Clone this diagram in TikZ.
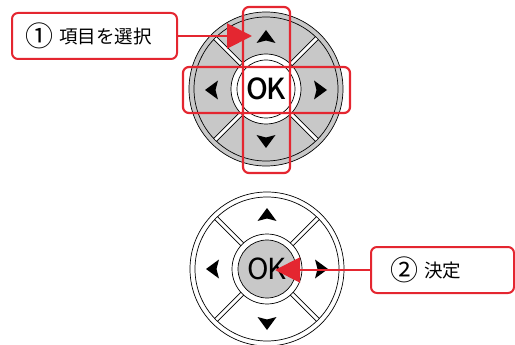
\documentclass[tikz,border=0pt]{standalone}
\usepackage{fontspec}
\newfontfamily\cjk{Noto Sans CJK JP}
\newfontfamily\okfont{Noto Sans CJK JP Medium}
\usetikzlibrary{arrows.meta}
\definecolor{dialgray}{RGB}{200,200,200}
\definecolor{hired}{RGB}{228,38,48}
\tikzset{
  callout/.style={draw=hired, line width=2pt, rounded corners=6pt, fill=white, minimum height=46pt, inner sep=0pt},
  redbox/.style={draw=hired, line width=2.2pt, rounded corners=6pt},
  pointer/.style={draw=hired, line width=2pt, -{Triangle[length=25pt,width=25pt]}, hired},
  ring/.style={draw=black, line width=0.7pt},
  oktext/.style={font=\okfont\fontsize{29}{29}\selectfont, inner sep=0pt},
  cjktext/.style={font=\cjk\fontsize{18.5}{18.5}\selectfont, inner sep=0pt}
}
\newcommand{\dirtri}[2]{% position, rotation
  \fill[black, shift={#1}, rotate=#2] (0,-7) -- (9.5,6) -- (0,3.5) -- (-9.5,6) -- cycle;}
\newcommand{\bignum}[1]{{\fontsize{28}{28}\selectfont\raisebox{-0.12em}{#1}}}
\begin{document}
\begin{tikzpicture}[x=1pt,y=-1pt]
\useasboundingbox (0,0) rectangle (515,345);
\clip (0,0) rectangle (515,345);
% ---------- top dial ----------
\begin{scope}[shift={(266,89)}]
  \fill[dialgray] (0,0) circle (77);
  \draw[ring] (0,0) circle (77);
  \draw[ring] (0,0) circle (72);
  \foreach \a in {45,135,225,315}{
    \draw[line width=4.6pt] (\a:34) -- (\a:72);
    \draw[white,line width=3pt] (\a:33) -- (\a:71.6);
  }
  \fill[white] (0,0) circle (35);
  \draw[ring] (0,0) circle (35);
  \draw[ring] (0,0) circle (29);
  \node[oktext] (ok1) at (0,0) {O\kern-1.5pt K};
  \dirtri{(0,-52)}{0}
  \dirtri{(0,52)}{180}
  \dirtri{(-54,1)}{90}
  \dirtri{(54,1)}{-90}
\end{scope}
\draw[redbox] (243,7) rectangle (290,173);
\draw[redbox] (183,67) rectangle (350,113);
% ---------- bottom dial ----------
\begin{scope}[shift={(267,269)}]
  \fill[white] (0,0) circle (77);
  \draw[ring] (0,0) circle (77);
  \draw[ring] (0,0) circle (72);
  \foreach \a in {45,135,225,315}{
    \draw[line width=4.6pt] (\a:34) -- (\a:72);
    \draw[white,line width=3pt] (\a:33) -- (\a:71.6);
  }
  \fill[white] (0,0) circle (35);
  \draw[ring] (0,0) circle (35);
  \fill[dialgray] (0,0) circle (29);
  \draw[ring] (0,0) circle (29);
  \node[oktext, font=\cjk\fontsize{29}{29}\selectfont] (ok2) at (0,0) {O\kern-1.5pt K};
  \dirtri{(0,-54)}{0}
  \dirtri{(0,54)}{180}
  \dirtri{(-54,0)}{90}
  \dirtri{(54,0)}{-90}
\end{scope}
% ---------- callouts ----------
\node[callout, minimum width=165pt] (b1) at (94.5,36) {};
\node[cjktext, anchor=west] (t1) at (25,36) {\bignum{①}\hspace{6pt}項目を選択};
\node[callout, minimum width=143pt] (b2) at (442.5,270) {};
\node[cjktext, anchor=west] (t2) at (390,270) {\bignum{②}\hspace{6pt}決定};
\coordinate (tip1) at (252,36);
\coordinate (tip2) at (275,270);
\draw[pointer] (b1.east) -- (tip1);
\draw[pointer] (b2.west) -- (tip2);
\end{tikzpicture}
\end{document}
